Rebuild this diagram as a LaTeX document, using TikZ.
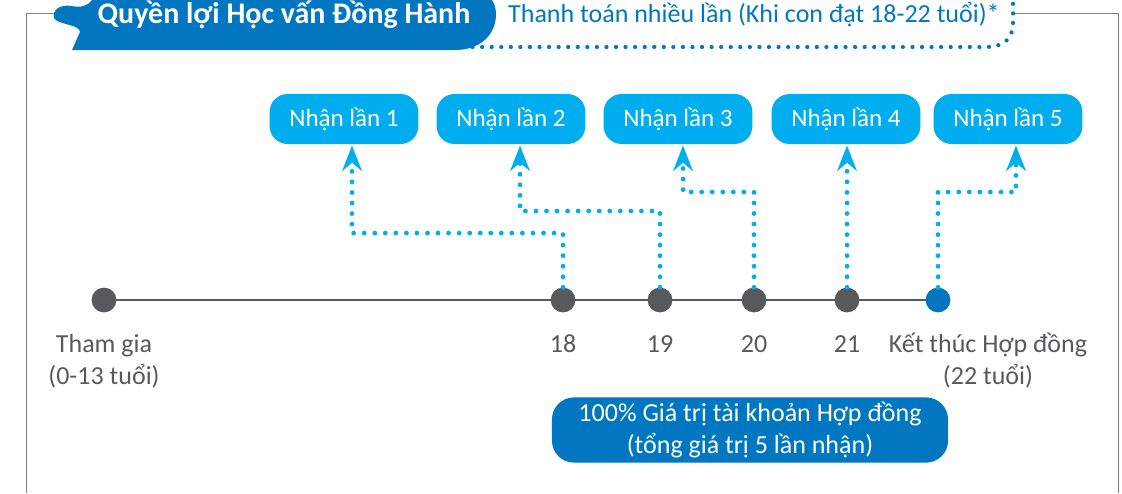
\documentclass[tikz,border=0pt]{standalone}
\usepackage{fontspec}
\setmainfont{Carlito}
\usetikzlibrary{arrows.meta}
\usetikzlibrary{positioning}

\definecolor{hdblue}{RGB}{0,119,192}
\definecolor{ltblue}{RGB}{0,174,239}
\definecolor{tlgray}{RGB}{88,89,91}
\definecolor{frgray}{RGB}{128,128,128}

\tikzset{
  dot/.style={circle,fill=tlgray,inner sep=0pt,minimum size=0.62cm},
  nhan/.style={rectangle,rounded corners=0.45cm,fill=ltblue,text=white,minimum width=3.72cm,minimum height=1.25cm,font=\fontsize{17.8}{21}\selectfont},
  lbl/.style={text=tlgray,align=center,anchor=base,inner sep=0pt,font=\fontsize{18.5}{22.7}\selectfont},
  conn/.style={draw=ltblue,line width=3.4pt,line cap=round,dash pattern=on 0pt off 7.5pt,-{Stealth[length=18pt,width=14pt,inset=6pt,line width=0.1pt]},shorten >=1pt}
}

\begin{document}
\begin{tikzpicture}[x=0.025cm,y=-0.025cm]
\useasboundingbox (0,0) rectangle (1122,493);

% frame
\draw[frgray,line width=0.7pt] (56,13) -- (26,13) -- (26,493);
\draw[frgray,line width=0.7pt] (1014,13) -- (1118,13) -- (1118,493);

% header
\fill[hdblue] (92,0) .. controls (88,6) and (80,8) .. (72,6) .. controls (60,4) and (52,10) .. (54,18)
  .. controls (57,25) and (80,24) .. (80,32) -- (72,50) -- (455,50)
  .. controls (480,50) and (496,35) .. (496,14) .. controls (496,8) and (494,3) .. (492,0) -- cycle;
\node[font=\fontsize{21.3}{24}\selectfont\bfseries,text=white] (hdr) at (284,15) {Quyền lợi Học vấn Đồng Hành};
\draw[hdblue,line width=3pt,line cap=round,dash pattern=on 0pt off 6.8pt] (463,47) -- (985,47) .. controls (1005,47) and (1013,38) .. (1013,22) -- (1013,0);
\node[font=\fontsize{18.5}{22}\selectfont,text=hdblue] (sub) at (754,15) {Thanh toán nhiều lần (Khi con đạt 18-22 tuổi)*};

% receive boxes
\node[nhan] (n1) at (344,119) {Nhận lần 1};
\node[nhan] (n2) at (511,119) {Nhận lần 2};
\node[nhan] (n3) at (678,119) {Nhận lần 3};
\node[nhan] (n4) at (846,119) {Nhận lần 4};
\node[nhan] (n5) at (1008,119) {Nhận lần 5};

% timeline
\draw[tlgray,line width=1.6pt] (104,300) -- (938,300);
\node[dot] (d0) at (104,300) {};
\node[dot] (d18) at (563,300) {};
\node[dot] (d19) at (660,300) {};
\node[dot] (d20) at (754,300) {};
\node[dot] (d21) at (847,300) {};
\node[dot,fill=hdblue] (d22) at (938,300) {};

\coordinate (k1) at (352,233);
\coordinate (k2) at (520,211);
\coordinate (k3) at (683,192);
\coordinate (k5) at (1016,192);
\draw[conn] (d18) |- (k1) -- (k1 |- n1.south);
\draw[conn] (d19) |- (k2) -- (k2 |- n2.south);
\draw[conn] (d20) |- (k3) -- (k3 |- n3.south);
\draw[conn] (d21) -- (d21 |- n4.south);
\draw[conn] (d22) |- (k5) -- (k5 |- n5.south);

\node[lbl] (l0) at (104,384) {Tham gia\\(0-13 tuổi)};
\node[lbl] (l18) at (563,352) {18};
\node[lbl] (l19) at (660,352) {19};
\node[lbl] (l20) at (754,352) {20};
\node[lbl] (l21) at (847,352) {21};
\node[lbl] (l22) at (988,384) {Kết thúc Hợp đồng\\(22 tuổi)};

\node[rectangle,rounded corners=0.55cm,fill=hdblue,text=white,minimum width=9.9cm,minimum height=1.625cm,align=center,font=\fontsize{18.5}{22.7}\selectfont] (tot) at (750,430) {100\% Giá trị tài khoản Hợp đồng\\(tổng giá trị 5 lần nhận)};

\end{tikzpicture}
\end{document}
